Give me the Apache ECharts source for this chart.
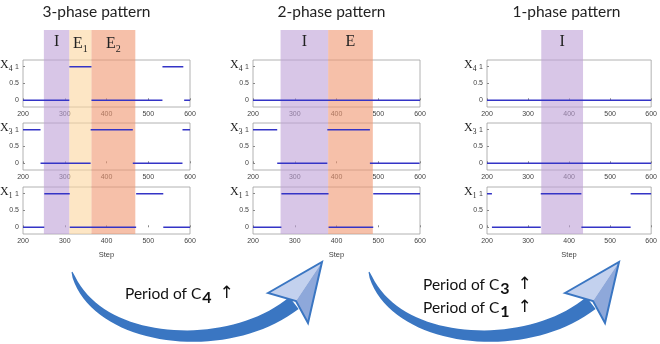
<!DOCTYPE html>
<html>
<head>
<meta charset="utf-8">
<script src="https://cdn.jsdelivr.net/npm/echarts@6/dist/echarts.min.js"></script>
<style>
html,body{margin:0;padding:0;background:#fff;}
#chart{width:660px;height:344px;}
</style>
</head>
<body>
<div id="chart"></div>
<script>
// step signals, each piece is [start, end, value]
const steps3X4 = [[200,311,0],[311,364,1],[364,534,0],[534,584,1],[586,600,0]];
const steps3X3 = [[200,242,1],[242,362,0],[362,463,1],[463,582,0],[582,600,1]];
const steps3X1 = [[200,251,0],[251,312,1],[312,471,0],[471,536,1],[536,600,0]];
const steps2X4 = [[200,600,0]];
const steps2X3 = [[200,258,1],[258,378,0],[378,480,1],[480,599,0],[599,600,1]];
const steps2X1 = [[200,268,0],[268,381,1],[381,488,0],[488,600,1]];
const steps1X4 = [[200,600,0]];
const steps1X3 = [[200,600,0]];
const steps1X1 = [[200,212,1],[212,331,0],[331,430,1],[430,550,0],[550,600,1]];

// shaded phases: [label, from, to]
const phases3 = [['I',250,311],['E1',311,364],['E2',364,469]];
const phases2 = [['I',266,380],['E',380,487]];
const phases1 = [['I',330,430]];

const titles = ['3-phase pattern','2-phase pattern','1-phase pattern'];
const rowNames = ['4','3','1'];
const yTicks = [0,0.5,1];

const panels = [
    {steps:[steps3X4,steps3X3,steps3X1], phases:phases3},
    {steps:[steps2X4,steps2X3,steps2X1], phases:phases2},
    {steps:[steps1X4,steps1X3,steps1X1], phases:phases1}
];

const panelLeft = [23, 253, 487];
const panelW = 167;
const rowTop = [60, 123, 187];
const rowH = 47;
const lineColor = '#3434c6';
const phaseColor = {I:'rgba(190,160,215,0.6)', E1:'rgba(252,214,158,0.6)', E2:'rgba(240,150,112,0.6)', E:'rgba(240,150,112,0.6)'};

function stepData(segs) {
    const d = [];
    segs.forEach((s, i) => {
        if (i) d.push([s[0], '-']);
        d.push([s[0], s[2]], [s[1], s[2]]);
    });
    return d;
}

function phaseLabel(name) {
    if (name.length > 1) return '{e|' + name[0] + '}{s|' + name.slice(1) + '}';
    return '{e|' + name + '}';
}

const grid = [], xAxis = [], yAxis = [], series = [], graphic = [];

panels.forEach((p, pi) => {
    p.steps.forEach((segs, ri) => {
        const gi = grid.length;
        grid.push({left:panelLeft[pi], top:rowTop[ri], width:panelW, height:rowH,
            show:true, borderColor:'#a0a0a0', borderWidth:0.8});
        xAxis.push({gridIndex:gi, type:'value', min:200, max:600, interval:100,
            axisLine:{show:false}, splitLine:{show:false},
            axisTick:{inside:true, length:2, lineStyle:{color:'#888'}},
            axisLabel:{fontSize:7, color:'#444', margin:4, fontFamily:'Arial'},
            name: ri === 2 ? 'Step' : '', nameLocation:'middle', nameGap:17,
            nameTextStyle:{fontSize:7.5, color:'#444', fontFamily:'Arial'}});
        yAxis.push({gridIndex:gi, type:'value', min:-0.2, max:1.2,
            axisLine:{show:false}, splitLine:{show:false},
            axisTick:{inside:true, length:2, customValues:yTicks, lineStyle:{color:'#888'}},
            axisLabel:{fontSize:7, color:'#444', margin:4, customValues:yTicks, fontFamily:'Arial'}});
        series.push({type:'line', xAxisIndex:gi, yAxisIndex:gi, data:stepData(segs),
            symbol:'none', connectNulls:false, z:2,
            lineStyle:{color:lineColor, width:1.5}, silent:true});
        graphic.push({type:'text', left:panelLeft[pi] - 23, top:rowTop[ri] - 1,
            style:{text:'{x|X}{s|' + rowNames[ri] + '}',
                rich:{x:{fontFamily:'Liberation Serif', fontSize:12, fill:'#222'},
                      s:{fontFamily:'Liberation Serif', fontSize:7.5, fill:'#222', padding:[9,0,0,0]}}}});
    });
    // overlay grid for the phase bands
    const gi = grid.length;
    grid.push({left:panelLeft[pi], top:30, width:panelW, height:rowTop[2] + rowH - 30, show:false});
    xAxis.push({gridIndex:gi, type:'value', min:200, max:600, show:false});
    yAxis.push({gridIndex:gi, type:'value', min:0, max:1, show:false});
    series.push({type:'line', xAxisIndex:gi, yAxisIndex:gi, data:[], z:5, silent:true,
        markArea:{silent:true,
            data:p.phases.map(ph => [
                {xAxis:ph[1], itemStyle:{color:phaseColor[ph[0]]},
                 label:{show:true, position:'insideTop', distance:4, formatter:phaseLabel(ph[0]),
                    rich:{e:{fontFamily:'Liberation Serif', fontSize:16, color:'#222'},
                          s:{fontFamily:'Liberation Serif', fontSize:10, color:'#222', padding:[10,0,0,0]}}}},
                {xAxis:ph[2]}
            ])}});
    graphic.push({type:'text', left:panelLeft[pi] + panelW / 2 - 53 + (pi === 0 ? -11 : pi === 2 ? -5 : -6), top:4,
        style:{text:titles[pi], fontFamily:'Lato', fontSize:15.5, fill:'#222'}});
});

// big curved arrows at the bottom
function cubic(p0, p1, p2, p3, t) {
    const u = 1 - t;
    return [u*u*u*p0[0] + 3*u*u*t*p1[0] + 3*u*t*t*p2[0] + t*t*t*p3[0],
            u*u*u*p0[1] + 3*u*u*t*p1[1] + 3*u*t*t*p2[1] + t*t*t*p3[1]];
}
function arrow(dx) {
    const P0 = [72+dx,272], P1 = [95+dx,345], P2 = [228+dx,356], P3 = [294+dx,303];
    const left = [], right = [];
    const n = 40;
    for (let i = 0; i <= n; i++) {
        const t = i / n;
        const a = cubic(P0,P1,P2,P3,Math.max(0,t-0.01)), b = cubic(P0,P1,P2,P3,Math.min(1,t+0.01));
        const c = cubic(P0,P1,P2,P3,t);
        let nx = -(b[1]-a[1]), ny = b[0]-a[0];
        const len = Math.hypot(nx, ny);
        nx /= len; ny /= len;
        const w = (1 + 14 * Math.pow(t, 0.55)) / 2;
        left.push([c[0] + nx*w, c[1] + ny*w]);
        right.push([c[0] - nx*w, c[1] - ny*w]);
    }
    const body = left.concat(right.reverse());
    const L = [268+dx,293], T = [322+dx,262], R = [308+dx,323], N = [296+dx,301];
    return [
        {type:'polygon', shape:{points:body}, style:{fill:'#3a76c2'}, z:10},
        {type:'polygon', shape:{points:[L,T,N]}, style:{fill:'#c3d1ee'}, z:11},
        {type:'polygon', shape:{points:[N,T,R]}, style:{fill:'#8ea8da'}, z:11},
        {type:'polygon', shape:{points:[L,T,R,N]}, style:{fill:null, stroke:'#3a76c2', lineWidth:2, lineJoin:'miter'}, z:12}
    ];
}
graphic.push(...arrow(0), ...arrow(297));

const periodRich = {
    a:{fontFamily:'Lato', fontSize:15.5, fill:'#111'},
    b:{fontFamily:'Lato', fontSize:16, fontWeight:'bold', fill:'#111', padding:[8,0,0,1]},
    c:{fontFamily:'DejaVu Sans', fontSize:17, fill:'#111', padding:[0,0,0,8]}
};
graphic.push(
    {type:'text', left:125, top:285, z:20, style:{text:'{a|Period of C}{b|4}{c|↑}', rich:periodRich}},
    {type:'text', left:423, top:276, z:20, style:{text:'{a|Period of C}{b|3}{c|↑}', rich:periodRich}},
    {type:'text', left:423, top:299, z:20, style:{text:'{a|Period of C}{b|1}{c|↑}', rich:periodRich}}
);

const myChart = echarts.init(document.getElementById('chart'));
myChart.setOption({
    animation:false,
    grid:grid,
    xAxis:xAxis,
    yAxis:yAxis,
    series:series,
    graphic:graphic
});
</script>
</body>
</html>
